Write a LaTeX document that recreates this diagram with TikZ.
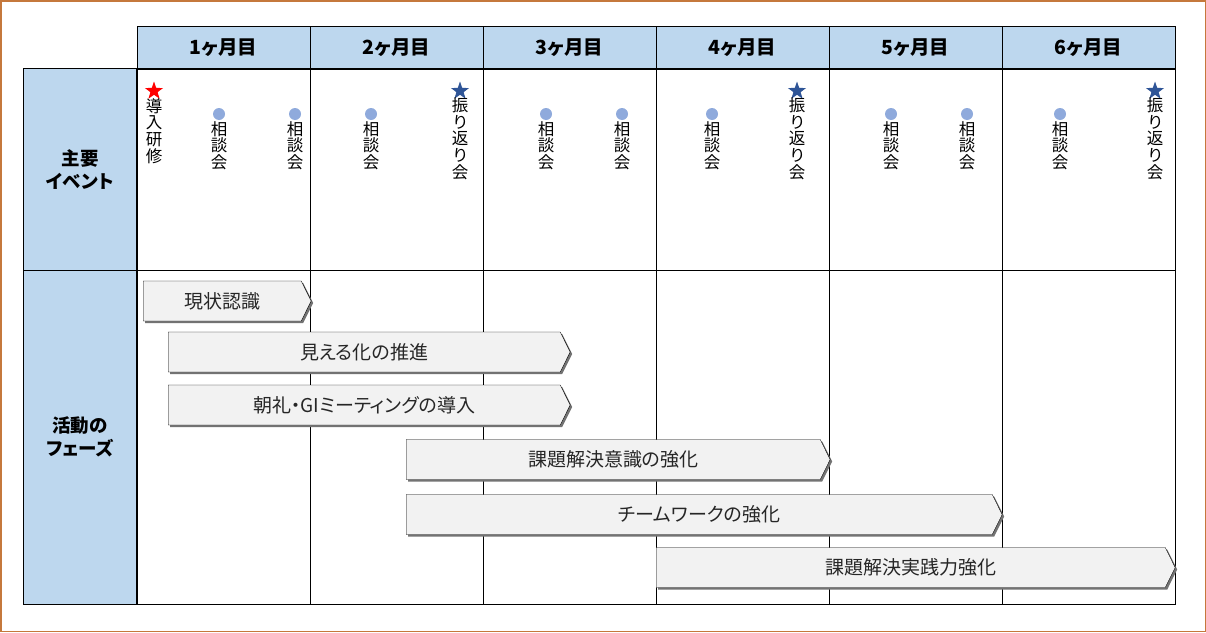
\documentclass[tikz,border=0pt]{standalone}
\usepackage{fontspec}
\setmainfont{Noto Sans CJK JP}[RawFeature=+palt]
\usetikzlibrary{positioning,
                shadows,
                shapes.geometric,
                shapes.symbols
                }
\definecolor{headblue}{RGB}{189,215,238}
\definecolor{dotblue}{RGB}{143,170,220}
\definecolor{starblue}{RGB}{47,85,151}
\definecolor{framebrown}{RGB}{197,120,60}
\definecolor{phasegray}{RGB}{242,242,242}

\begin{document}
\begin{tikzpicture}[x=1pt, y=-1pt,
     head/.style = {draw, fill=headblue, line width=1pt,
                    minimum width=173pt, minimum height=42.5pt,
                    font=\fontsize{19.5}{22}\selectfont\bfseries},
      lbl/.style = {draw, fill=headblue, line width=1pt, minimum width=114pt,
                    align=center, font=\fontsize{18.5}{23}\selectfont\bfseries},
    phase/.style = {shape=signal, signal to=east, signal pointer angle=127,
                    draw, fill=phasegray, minimum height=40pt, inner sep=0pt, anchor=west,
                    drop shadow={shadow xshift=2pt, shadow yshift=-2pt, fill=black!55, opacity=1},
                    font=\fontsize{19}{21}\selectfont, text=black!85},
      evt/.style = {anchor=north, align=center, inner sep=0pt,
                    font=\fontsize{16.5}{16.7}\selectfont},
    evdot/.style = {circle, fill=dotblue, minimum size=12pt, inner sep=0pt},
   evstar/.style = {star, star points=5, star point ratio=2.5,
                    minimum size=19pt, inner sep=0pt, fill=#1}
      ]
    \useasboundingbox (0,0) rectangle (1206,632);
    \draw[framebrown, line width=1.5pt] (0.75,0.75) rectangle (1205.25,631.25);
    % months and row labels
    \foreach \i in {1,...,6}
        \node[head] (m\i) at ({137+173*(\i-0.5)},47.25) {\i ヶ月目};
    \node[lbl, minimum height=201.5pt] (l1) at (80,169.25) {主要\\イベント};
    \node[lbl, minimum height=334pt] (l2) at (80,437) {活動の\\フェーズ};
    \begin{scope}[line width=1pt]
        \draw (m1.south west) rectangle (m6.south east |- l2.south);
        \foreach \i in {1,...,5}
            \draw (m\i.south east) -- (m\i.south east |- l2.south);
        \draw (l1.south east) -- (m6.south east |- l1.south);
    \end{scope}
    % events
    \node[evstar=red] (s0) at (154,91) {};
    \node[evt, below=3pt of s0] (t0) {導\\入\\研\\修};
    \foreach \x [count=\k] in {460,797,1155}{
        \node[evstar=starblue] (s\k) at (\x,91) {};
        \node[evt, below=2.5pt of s\k] (u\k) {振\\り\\返\\り\\会};
    }
    \foreach \x [count=\k] in {219,295,371,546,622,712,891,967,1060}{
        \node[evdot] (d\k) at (\x,114) {};
        \node[evt, below=1pt of d\k] (t\k) {相\\談\\会};
    }
    % phases
    \node[phase, minimum width=168pt] (p1) at (143,301) {現状認識};
    \node[phase, minimum width=402pt] (p2) at (168,352) {見える化の推進};
    \node[phase, minimum width=402pt] (p3) at (168,405) {朝礼・GIミーティングの導入};
    \node[phase, minimum width=424pt] (p4) at (406,459.5) {課題解決意識の強化};
    \node[phase, minimum width=596pt] (p5) at (406,514.5) {チームワークの強化};
    \node[phase, minimum width=519pt] (p6) at (656,567.5) {課題解決実践力強化};
\end{tikzpicture}
\end{document}
